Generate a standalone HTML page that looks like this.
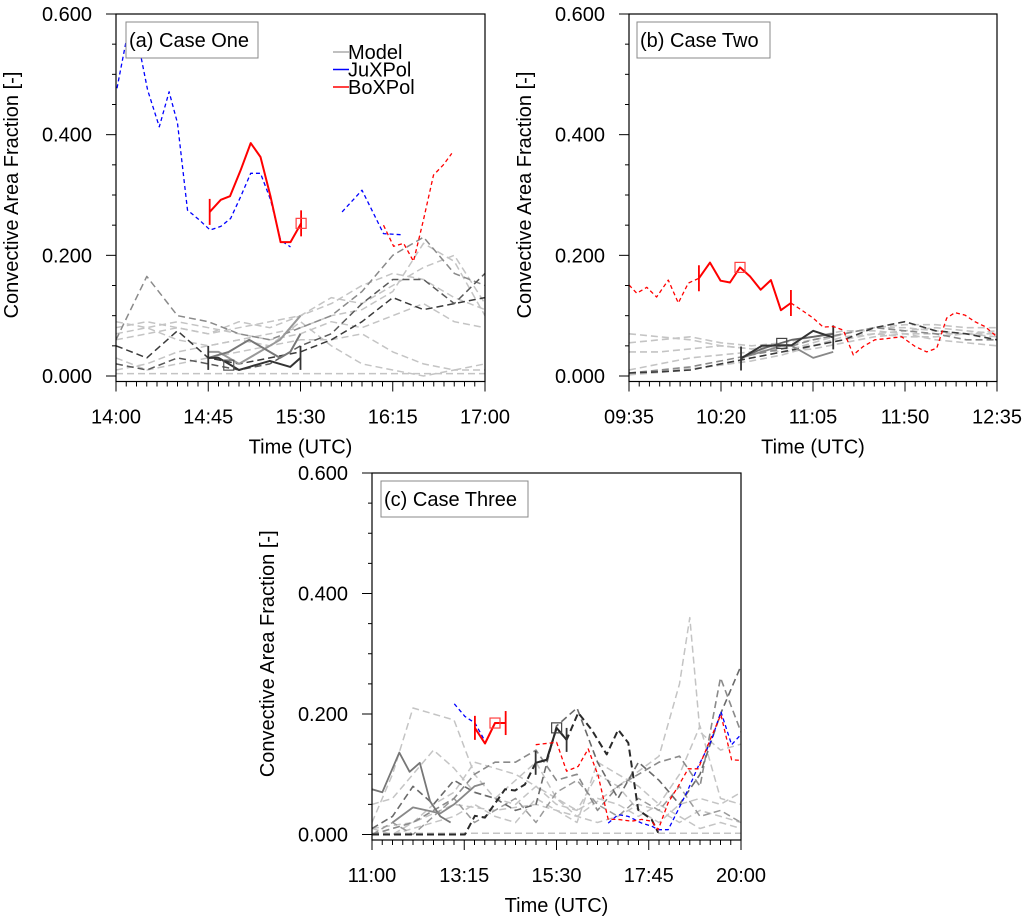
<!DOCTYPE html>
<html><head><meta charset="utf-8">
<style>
html,body{margin:0;padding:0;background:#fff;}
svg{display:block;font-family:"Liberation Sans",Arial,sans-serif;}
</style></head>
<body>
<svg id="fig" width="1032" height="920" viewBox="0 0 1032 920" xmlns="http://www.w3.org/2000/svg">
<rect width="1032" height="920" fill="#fff"/>
</svg>
<script>
// ---------- Panel (a) data: minutes after 14:00 ----------
const aJuxT1 = [0.5,4.9,12.2,15.4,21.1,25.9,30.0,34.9,40.5,45.9,51.1,55.9,60.8,65.7,70.5,75.4,80.3,85.1];
const aJuxV1 = [0.477,0.554,0.529,0.474,0.413,0.471,0.419,0.275,0.259,0.242,0.248,0.261,0.297,0.336,0.336,0.292,0.225,0.214];
const aJuxT2 = [110.3,120,130.5,139.5];
const aJuxV2 = [0.272,0.308,0.236,0.234];
const aBoxT = [45.7,51.1,55.6,60.8,65.7,70.5,75.4,80.3,85.1,90.3];
const aBoxV = [0.272,0.292,0.298,0.341,0.386,0.363,0.297,0.222,0.222,0.253];
const aBoxDT = [130.5,135.4,140.3,145.1,150,154.9,159.7,163.8];
const aBoxDV = [0.250,0.215,0.220,0.190,0.259,0.333,0.350,0.369];
const aEnsT = [0,15,30,45,60,75,90,105,120,135,150,165,180];
const aEnsLight1 = [0.08,0.09,0.08,0.07,0.08,0.09,0.10,0.13,0.12,0.15,0.18,0.20,0.12];
const aEnsLight2 = [0.07,0.08,0.06,0.05,0.06,0.07,0.08,0.10,0.11,0.14,0.22,0.19,0.10];
const aEnsLight3 = [0.01,0.02,0.04,0.05,0.06,0.05,0.06,0.06,0.07,0.04,0.02,0.01,0.02];
const aEnsLight4 = [0.09,0.08,0.09,0.08,0.07,0.06,0.07,0.09,0.08,0.10,0.12,0.09,0.08];
const aEnsLight5 = [0.03,0.01,0.02,0.03,0.04,0.05,0.09,0.05,0.02,0.01,0.00,0.01,0.01];
const aEnsLight6 = [0.06,0.07,0.08,0.07,0.09,0.08,0.10,0.12,0.15,0.17,0.16,0.13,0.11];
const aEnsZero = [0.004,0.004,0.004,0.004,0.004,0.004,0.004,0.004,0.004,0.004,0.004,0.004,0.004];
const aEnsMid = [0.06,0.165,0.10,0.09,0.07,0.06,0.08,0.10,0.14,0.20,0.23,0.17,0.15];
const aEnsDark1 = [0.05,0.03,0.075,0.03,0.02,0.03,0.04,0.06,0.09,0.13,0.11,0.12,0.13];
const aEnsDark2 = [0.02,0.01,0.03,0.02,0.01,0.02,0.05,0.07,0.12,0.16,0.16,0.12,0.17];
const aModT = [45,50,55,60,65,70,75,80,85,90];
const aMod1 = [0.03,0.03,0.02,0.01,0.015,0.02,0.025,0.02,0.015,0.03];
const aMod2 = [0.03,0.035,0.04,0.05,0.06,0.05,0.04,0.03,0.04,0.07];
const aMod3 = [0.04,0.04,0.03,0.02,0.03,0.04,0.05,0.06,0.08,0.10];
// ---------- Panel (b) data: minutes after 09:35 ----------
const bBoxT1 = [0,3.8,8.7,13.5,19.2,24.1,29,34.2];
const bBoxV1 = [0.151,0.137,0.147,0.131,0.159,0.121,0.154,0.162];
const bBoxT = [34.2,39.6,44.8,49.4,54.3,59.2,64.4,69.4,74.3,79.2];
const bBoxV = [0.162,0.188,0.158,0.155,0.180,0.165,0.143,0.159,0.109,0.121];
const bBoxT2 = [79.2,84.5,90.1,95,99.9,104.8,109.7,114.6,120.3,126,133.4,139.9,145.6,150.5,155.4,159.4,164.3,169.2,174.1,180];
const bBoxV2 = [0.121,0.109,0.096,0.081,0.082,0.076,0.035,0.049,0.060,0.062,0.065,0.049,0.040,0.046,0.096,0.105,0.101,0.090,0.082,0.065];
const bEnsT = [0,15,30,45,60,75,90,105,120,135,150,165,180];
const bEnsLight1 = [0.07,0.065,0.06,0.05,0.045,0.05,0.06,0.07,0.08,0.085,0.085,0.08,0.08];
const bEnsLight2 = [0.055,0.06,0.065,0.055,0.05,0.055,0.065,0.075,0.075,0.07,0.07,0.07,0.065];
const bEnsLight3 = [0.01,0.02,0.03,0.035,0.04,0.045,0.05,0.06,0.07,0.075,0.08,0.075,0.07];
const bEnsLight4 = [0.04,0.04,0.045,0.05,0.045,0.04,0.045,0.055,0.065,0.07,0.06,0.055,0.05];
const bEnsLight5 = [0.003,0.008,0.012,0.018,0.025,0.035,0.05,0.065,0.07,0.065,0.065,0.07,0.075];
const bEnsLight6 = [0.002,0.006,0.01,0.02,0.03,0.04,0.055,0.07,0.08,0.08,0.075,0.07,0.07];
const bEnsDark1 = [0.005,0.007,0.01,0.02,0.03,0.04,0.05,0.06,0.08,0.09,0.075,0.07,0.06];
const bEnsDark2 = [0.005,0.01,0.015,0.025,0.035,0.045,0.06,0.07,0.08,0.075,0.07,0.06,0.06];
const bModT = [54.8,64.9,74.7,79.6,90.1,99.9];
const bMod1 = [0.029,0.050,0.051,0.051,0.075,0.064];
const bMod2 = [0.03,0.04,0.05,0.05,0.03,0.04];
const bMod3 = [0.03,0.045,0.055,0.06,0.065,0.07];
// ---------- Panel (c) data: minutes after 11:00 ----------
const cJuxT1 = [120.4,136,150.6,165.3];
const cJuxV1 = [0.217,0.196,0.185,0.155];
const cJuxT2 = [345.7,360.3,375,394.6,409.2,418.9,433.5,448.1,462.7,477.4,497,510.6,526.2,540];
const cJuxV2 = [0.019,0.033,0.030,0.019,0.014,0.008,0.008,0.041,0.075,0.113,0.157,0.204,0.149,0.166];
const cBoxT = [150.6,165.3,180,195.6];
const cBoxV = [0.177,0.151,0.185,0.185];
const cBoxDT = [239.5,270.2,284.8,301.8,316.4,331.1,345.7,360.3,379.9,394.6,409.2,418.9,433.5,448.1,462.7,477.4,497,510.6,526.2,540];
const cBoxDV = [0.149,0.153,0.105,0.113,0.142,0.097,0.025,0.025,0.022,0.025,0.022,0.008,0.053,0.080,0.109,0.109,0.163,0.199,0.124,0.123];
const cEnsT = [0,30,60,90,120,150,180,210,240,270,300,330,360,390,420,450,480,510,540];
const cEnsLight1 = [0.02,0.10,0.21,0.20,0.19,0.10,0.06,0.05,0.08,0.06,0.04,0.06,0.05,0.03,0.05,0.10,0.18,0.06,0.05];
const cEnsLight2 = [0.0,0.0,0.02,0.05,0.07,0.12,0.11,0.10,0.08,0.05,0.04,0.10,0.08,0.04,0.02,0.05,0.06,0.05,0.07];
const cEnsLight3 = [0.05,0.06,0.10,0.14,0.11,0.07,0.06,0.09,0.12,0.06,0.03,0.02,0.03,0.05,0.04,0.02,0.04,0.03,0.02];
const cEnsLight4 = [0.01,0.0,0.01,0.02,0.03,0.05,0.03,0.02,0.06,0.04,0.02,0.12,0.10,0.08,0.05,0.03,0.01,0.02,0.01];
const cEnsZero = [0.002,0.002,0.002,0.002,0.002,0.002,0.002,0.002,0.002,0.002,0.002,0.002,0.002,0.002,0.002,0.002,0.002,0.002,0.002];
const cEnsMid1 = [0.0,0.01,0.02,0.04,0.06,0.10,0.12,0.12,0.14,0.09,0.10,0.04,0.08,0.10,0.12,0.13,0.08,0.26,0.17];
const cEnsMid2 = [0.01,0.03,0.08,0.05,0.09,0.07,0.06,0.04,0.05,0.18,0.21,0.12,0.06,0.12,0.09,0.05,0.10,0.20,0.28];
const cEnsMid3 = [0.0,0.02,0.0,0.03,0.06,0.02,0.04,0.06,0.02,0.07,0.09,0.05,0.03,0.06,0.04,0.08,0.03,0.04,0.02];
const cPeakT = [0,60,120,180,240,300,360,420,450,465,480,510,540];
const cPeakV = [0.01,0.02,0.05,0.04,0.05,0.03,0.08,0.13,0.25,0.36,0.17,0.14,0.15];
const cBlackT = [0,60,120,136,150.6,165.3,194.6,209.2,223.8,239.5,255.6,270.2,284.8,301.8,321.4,343.4,360.3,375,389.6,409.2,418.9];
const cBlackV = [0,0,0,0,0.031,0.028,0.075,0.073,0.083,0.119,0.124,0.177,0.157,0.202,0.174,0.133,0.174,0.152,0.041,0.025,0.003];
const cModT = [239.5,255.6,270.2,284.8];
const cMod1 = [0.119,0.124,0.177,0.157];
const cGrayST1 = [0,15,40,55,70,85,100,115];
const cGrayS1 = [0.075,0.07,0.136,0.104,0.119,0.055,0.03,0.02];
const cGrayST2 = [30,60,80,100,120,150,165];
const cGrayS2 = [0.02,0.045,0.04,0.035,0.05,0.08,0.085];

const yTickVals = [0,0.2,0.4,0.6];
const yTickLabels = ["0.000","0.200","0.400","0.600"];
const aTickLabels = ["14:00","14:45","15:30","16:15","17:00"];
const bTickLabels = ["09:35","10:20","11:05","11:50","12:35"];
const cTickLabels = ["11:00","13:15","15:30","17:45","20:00"];

const NS = "http://www.w3.org/2000/svg";
const fig = document.getElementById('fig');
function mk(tag, attrs, parent){
  const e = document.createElementNS(NS, tag);
  for (const k in attrs) e.setAttribute(k, attrs[k]);
  (parent||fig).appendChild(e);
  return e;
}
function makePanel(cfg){
  const g = mk('g', {});
  
  
  const X = t => cfg.x0 + (t - 0) / cfg.tmax * (cfg.x1 - cfg.x0);
  const Y = v => cfg.yz - v * (cfg.yz - cfg.yt) / 0.6;
  const clip = mk('clipPath', {id: cfg.name + '-clip'}, g);
  mk('rect', {x: cfg.x0, y: cfg.yt, width: cfg.x1 - cfg.x0, height: cfg.yb - cfg.yt}, clip);
  const plot = mk('g', {'clip-path': 'url(#' + cfg.name + '-clip)'}, g);
  return {g, X, Y, plot, cfg};
}
function series(P, ts, vs, color, dash, w, name){
  let d = '';
  for (let i = 0; i < ts.length; i++) d += (i ? 'L' : 'M') + P.X(ts[i]).toFixed(1) + ' ' + P.Y(vs[i]).toFixed(1);
  const p = mk('path', {d: d, fill: 'none', stroke: color, 'stroke-width': w, 'stroke-dasharray': dash || 'none', 'stroke-linejoin': 'round'}, P.plot);
  
  
  return p;
}
function errbar(P, t, v, color, half, name){
  const p = mk('line', {x1: P.X(t), x2: P.X(t), y1: P.Y(v) - half, y2: P.Y(v) + half, stroke: color, 'stroke-width': 1.8}, P.plot);
  
  
}
function square(P, t, v, color, name){
  const s = mk('rect', {x: P.X(t) - 5, y: P.Y(v) - 5, width: 10, height: 10, fill: 'none', stroke: color, 'stroke-width': 1.2}, P.plot);
  
  
}
function axes(P, tickLabels, title, titleBox){
  const c = P.cfg, g = P.g;
  const frame = mk('rect', {x: c.x0, y: c.yt, width: c.x1 - c.x0, height: c.yb - c.yt, fill: 'none', stroke: '#000', 'stroke-width': 1.2}, g);
  
  
  // y ticks
  for (let k = 0; k <= 12; k++) {
    const v = k * 0.05, y = P.Y(v), major = (k % 4 === 0);
    mk('line', {x1: c.x0 - (major ? 10 : 4), x2: c.x0, y1: y, y2: y, stroke: '#000', 'stroke-width': 1}, g);
  }
  for (let i = 0; i < yTickVals.length; i++) {
    const t = mk('text', {x: c.x0 - 24, y: P.Y(yTickVals[i]) + 7, 'text-anchor': 'end', 'font-size': 20, fill: '#000'}, g);
    t.textContent = yTickLabels[i];
    
    
  }
  // x ticks
  for (let k = 0; k <= 36; k++) {
    const x = c.x0 + k / 36 * (c.x1 - c.x0), major = (k % 9 === 0);
    mk('line', {x1: x, x2: x, y1: c.yb, y2: c.yb + (major ? 10 : 5), stroke: '#000', 'stroke-width': 1}, g);
  }
  for (let i = 0; i < tickLabels.length; i++) {
    const x = c.x0 + i / 4 * (c.x1 - c.x0);
    const t = mk('text', {x: x, y: c.yb + 42, 'text-anchor': 'middle', 'font-size': 20, fill: '#000'}, g);
    t.textContent = tickLabels[i];
    
    
  }
  const xt = mk('text', {x: (c.x0 + c.x1) / 2, y: c.yb + 72, 'text-anchor': 'middle', 'font-size': 20, fill: '#000'}, g);
  xt.textContent = 'Time (UTC)';
  
  
  const yc = (c.yt + c.yz) / 2, yx = c.x0 - 98;
  const yt = mk('text', {x: yx, y: yc, 'text-anchor': 'middle', 'font-size': 20, fill: '#000', transform: 'rotate(-90 ' + yx + ' ' + yc + ')'}, g);
  yt.textContent = 'Convective Area Fraction [-]';
  
  
  const bx = mk('rect', {x: c.x0 + titleBox[0], y: c.yt + 8, width: titleBox[1], height: 36, fill: '#fff', stroke: '#888', 'stroke-width': 1}, g);
  
  
  const tt = mk('text', {x: c.x0 + titleBox[0] + 3, y: c.yt + 33, 'font-size': 20, fill: '#000'}, g);
  tt.textContent = title;
  
  
}
const LIGHT = '#c4c4c4', MID = '#8a8a8a', DARK = '#3a3a3a', DASH = '7,4';

// ---------------- Panel A ----------------
const A = makePanel({name: 'panel-a-case-one', x0: 116, x1: 485, yt: 14, yz: 376, yb: 381.5, tmax: 180});
[aEnsLight1, aEnsLight2, aEnsLight3, aEnsLight4, aEnsLight5, aEnsLight6, aEnsZero].forEach(function(s){ series(A, aEnsT, s, LIGHT, DASH, 1.5, 'model-member-light'); });
series(A, aEnsT, aEnsMid, MID, DASH, 1.5, 'model-member-mid');
series(A, aEnsT, aEnsDark1, DARK, DASH, 1.5, 'model-member-dark');
series(A, aEnsT, aEnsDark2, '#5a5a5a', DASH, 1.5, 'model-member-dark');
series(A, aModT, aMod3, '#999', '', 2, 'model-window-line');
series(A, aModT, aMod2, '#777', '', 2, 'model-window-line');
series(A, aModT, aMod1, '#333', '', 2, 'model-window-line');
errbar(A, 45, 0.03, '#333', 12, 'model-window-start');
errbar(A, 90, 0.03, '#333', 12, 'model-window-end');
square(A, 55, 0.018, '#555', 'model-marker');
series(A, aJuxT1, aJuxV1, '#0000ff', '4,3', 1.3, 'juxpol-line');
series(A, aJuxT2, aJuxV2, '#0000ff', '4,3', 1.3, 'juxpol-line');
series(A, aBoxDT, aBoxDV, '#ff0000', '4,3', 1.3, 'boxpol-dashed-line');
series(A, aBoxT, aBoxV, '#ff0000', '', 2, 'boxpol-line');
errbar(A, 45.7, 0.272, '#ff0000', 13, 'boxpol-window-start');
errbar(A, 90.3, 0.253, '#ff0000', 13, 'boxpol-window-end');
square(A, 90.3, 0.253, '#ff4040', 'boxpol-marker');
axes(A, aTickLabels, '(a) Case One', [10, 132]);
// legend
const leg = mk('g', {});


[['Model', '#aaa', 52], ['JuXPol', '#0000ff', 69.5], ['BoXPol', '#ff0000', 87]].forEach(function(it){
  mk('line', {x1: 333, x2: 349, y1: it[2], y2: it[2], stroke: it[1], 'stroke-width': 1.5}, leg);
  const t = mk('text', {x: 348, y: it[2] + 7, 'font-size': 20, fill: '#000'}, leg);
  t.textContent = it[0];
  
  
});

// ---------------- Panel B ----------------
const B = makePanel({name: 'panel-b-case-two', x0: 629, x1: 997, yt: 14, yz: 376, yb: 381.5, tmax: 180});
[bEnsLight1, bEnsLight2, bEnsLight3, bEnsLight4, bEnsLight5, bEnsLight6].forEach(function(s){ series(B, bEnsT, s, LIGHT, DASH, 1.6, 'model-member-light'); });
series(B, bEnsT, bEnsDark2, MID, DASH, 1.6, 'model-member-mid');
series(B, bEnsT, bEnsDark1, DARK, DASH, 1.6, 'model-member-dark');
series(B, bModT, bMod2, '#888', '', 1.8, 'model-window-line');
series(B, bModT, bMod3, '#666', '', 1.8, 'model-window-line');
series(B, bModT, bMod1, '#333', '', 2, 'model-window-line');
errbar(B, 54.8, 0.029, '#333', 12, 'model-window-start');
errbar(B, 99.9, 0.064, '#333', 12, 'model-window-end');
square(B, 74.7, 0.054, '#444', 'model-marker');
series(B, bBoxT1, bBoxV1, '#ff0000', '4,3', 1.3, 'boxpol-dashed-line');
series(B, bBoxT2, bBoxV2, '#ff0000', '4,3', 1.3, 'boxpol-dashed-line');
series(B, bBoxT, bBoxV, '#ff0000', '', 2, 'boxpol-line');
errbar(B, 34.2, 0.162, '#ff0000', 13, 'boxpol-window-start');
errbar(B, 79.2, 0.121, '#ff0000', 13, 'boxpol-window-end');
square(B, 54.3, 0.180, '#ff4040', 'boxpol-marker');
axes(B, bTickLabels, '(b) Case Two', [8, 133]);

// ---------------- Panel C ----------------
const C = makePanel({name: 'panel-c-case-three', x0: 372, x1: 741, yt: 473, yz: 834.5, yb: 840, tmax: 540});
[cEnsLight1, cEnsLight2, cEnsLight3, cEnsLight4, cEnsZero].forEach(function(s){ series(C, cEnsT, s, LIGHT, DASH, 1.5, 'model-member-light'); });
series(C, cPeakT, cPeakV, LIGHT, DASH, 1.5, 'model-member-light');
series(C, cEnsT, cEnsMid3, '#9a9a9a', DASH, 1.5, 'model-member-mid');
series(C, cEnsT, cEnsMid1, MID, DASH, 1.6, 'model-member-mid');
series(C, cEnsT, cEnsMid2, '#6a6a6a', DASH, 1.6, 'model-member-mid');
series(C, cGrayST1, cGrayS1, '#777', '', 1.8, 'model-member-solid');
series(C, cGrayST2, cGrayS2, '#888', '', 1.8, 'model-member-solid');
series(C, cBlackT, cBlackV, '#2a2a2a', '7,4', 2, 'model-member-black');
series(C, cModT, cMod1, '#2a2a2a', '', 2, 'model-window-line');
errbar(C, 239.5, 0.119, '#333', 12, 'model-window-start');
errbar(C, 284.8, 0.157, '#333', 12, 'model-window-end');
square(C, 270.2, 0.177, '#444', 'model-marker');
series(C, cJuxT1, cJuxV1, '#0000ff', '4,3', 1.3, 'juxpol-line');
series(C, cJuxT2, cJuxV2, '#0000ff', '4,3', 1.3, 'juxpol-line');
series(C, cBoxDT, cBoxDV, '#ff0000', '4,3', 1.3, 'boxpol-dashed-line');
series(C, cBoxT, cBoxV, '#ff0000', '', 2, 'boxpol-line');
errbar(C, 150.6, 0.177, '#ff0000', 12, 'boxpol-window-start');
errbar(C, 195.6, 0.185, '#ff0000', 12, 'boxpol-window-end');
square(C, 180, 0.185, '#ff4040', 'boxpol-marker');
axes(C, cTickLabels, '(c) Case Three', [9, 147]);
</script>
</body></html>
